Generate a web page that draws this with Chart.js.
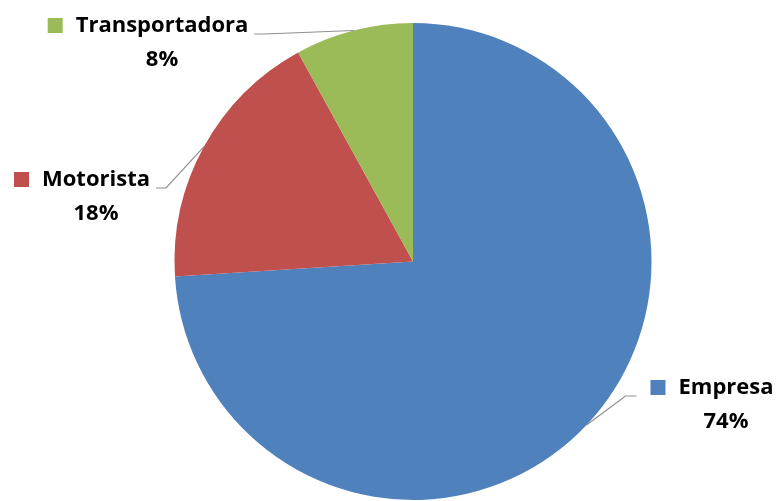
<!DOCTYPE html>
<html>
<head>
<meta charset="utf-8">
<script src="https://cdn.jsdelivr.net/npm/chart.js@4.4.0/dist/chart.umd.min.js"></script>
<style>
  html, body { margin: 0; padding: 0; background: #fff; }
  #wrap { width: 779px; height: 501px; }
</style>
</head>
<body>
<div id="wrap"><canvas id="pieChart" width="779" height="501"></canvas></div>
<script>
const categorias = ['Empresa', 'Motorista', 'Transportadora'];
const valores = [74, 18, 8];
const colores = ['#4F81BD', '#C0504D', '#9BBB59'];

// posicion de cada etiqueta (centro del nombre) y lado del conector
const etiquetas = [
    { x: 726, y: 388, lado: 'derecha' },
    { x: 96, y: 180, lado: 'izquierda' },
    { x: 162, y: 26, lado: 'izquierda' }
];

const fuente = 'bold 22px "Open Sans", Lato, sans-serif';

const etiquetasPlugin = {
    id: 'etiquetasPie',
    afterDatasetsDraw(chart) {
        const ctx = chart.ctx;
        const meta = chart.getDatasetMeta(0);
        const total = valores.reduce((a, b) => a + b, 0);
        ctx.save();
        ctx.font = fuente;
        meta.data.forEach((arc, i) => {
            const et = etiquetas[i];
            const mid = (arc.startAngle + arc.endAngle) / 2;
            const px = arc.x + Math.cos(mid) * arc.outerRadius;
            const py = arc.y + Math.sin(mid) * arc.outerRadius;

            const nombre = categorias[i];
            const ancho = ctx.measureText(nombre).width;
            const izq = et.x - ancho / 2;
            const sq = 15;
            const sqX = izq - sq - 13;

            // conector
            let finX, codoX;
            const finY = et.y + 8;
            if (et.lado === 'izquierda') {
                finX = izq + ancho + 6;
                codoX = finX + 10;
            } else {
                finX = sqX - 14;
                codoX = finX - 11;
            }
            ctx.strokeStyle = '#8f8f8f';
            ctx.lineWidth = 1.2;
            ctx.beginPath();
            ctx.moveTo(px, py);
            ctx.lineTo(codoX, finY);
            ctx.lineTo(finX, finY);
            ctx.stroke();

            // cuadro de color
            ctx.fillStyle = colores[i];
            ctx.fillRect(sqX, et.y - 8, sq, sq);

            // textos
            ctx.fillStyle = '#000';
            ctx.textBaseline = 'middle';
            ctx.textAlign = 'left';
            ctx.fillText(nombre, izq, et.y);
            ctx.textAlign = 'center';
            ctx.fillText(Math.round(valores[i] / total * 100) + '%', et.x, et.y + 34);
        });
        ctx.restore();
    }
};

const ctx = document.getElementById('pieChart').getContext('2d');
new Chart(ctx, {
    type: 'pie',
    data: {
        labels: categorias,
        datasets: [{
            data: valores,
            backgroundColor: colores,
            borderWidth: 0
        }]
    },
    options: {
        responsive: false,
        animation: false,
        layout: { padding: { top: 23, bottom: 1, left: 100, right: 53 } },
        plugins: {
            legend: { display: false },
            tooltip: { enabled: false }
        }
    },
    plugins: [etiquetasPlugin]
});
</script>
</body>
</html>
